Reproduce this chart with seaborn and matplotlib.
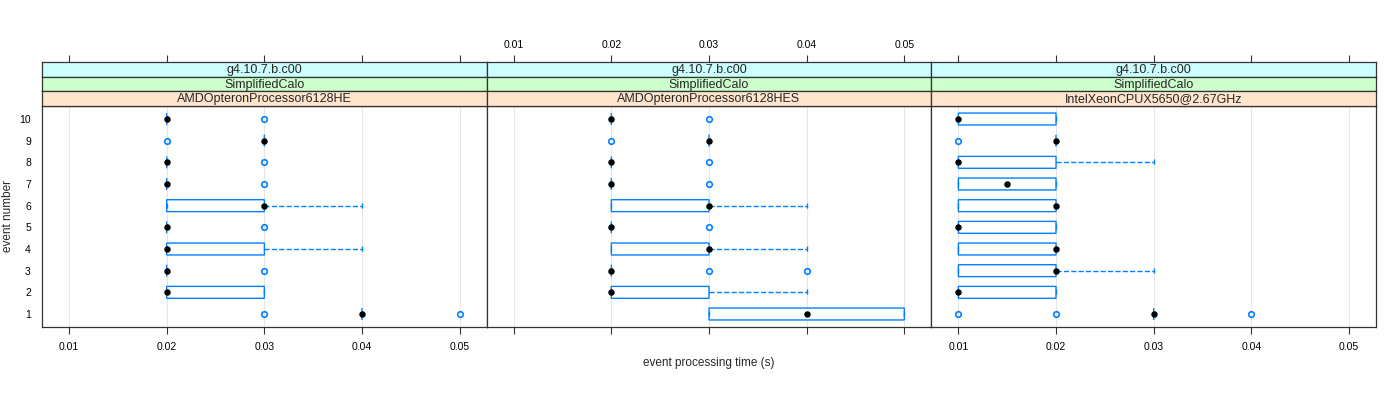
import numpy as np
import pandas as pd
import matplotlib
matplotlib.use('Agg')
import matplotlib.pyplot as plt
import seaborn as sns

# event processing time samples (s), per machine, events 1..10
events = ['1', '2', '3', '4', '5', '6', '7', '8', '9', '10']

he_times = [
    [0.03, 0.04, 0.04, 0.04, 0.04, 0.04, 0.05],
    [0.02, 0.02, 0.02, 0.02, 0.02, 0.03, 0.03, 0.03, 0.03],
    [0.02, 0.02, 0.02, 0.02, 0.03],
    [0.02, 0.02, 0.02, 0.02, 0.02, 0.03, 0.03, 0.03, 0.04],
    [0.02, 0.02, 0.02, 0.02, 0.03],
    [0.02, 0.02, 0.02, 0.03, 0.03, 0.03, 0.03, 0.03, 0.04],
    [0.02, 0.02, 0.02, 0.02, 0.03],
    [0.02, 0.02, 0.02, 0.02, 0.03],
    [0.02, 0.03, 0.03, 0.03, 0.03],
    [0.02, 0.02, 0.02, 0.02, 0.03],
]

hes_times = [
    [0.03, 0.03, 0.04, 0.05, 0.05],
    [0.02, 0.02, 0.02, 0.02, 0.02, 0.03, 0.03, 0.03, 0.04],
    [0.02, 0.02, 0.02, 0.02, 0.02, 0.02, 0.02, 0.03, 0.04],
    [0.02, 0.02, 0.02, 0.03, 0.03, 0.03, 0.03, 0.03, 0.04],
    [0.02, 0.02, 0.02, 0.02, 0.03],
    [0.02, 0.02, 0.02, 0.03, 0.03, 0.03, 0.03, 0.03, 0.04],
    [0.02, 0.02, 0.02, 0.02, 0.03],
    [0.02, 0.02, 0.02, 0.02, 0.03],
    [0.02, 0.03, 0.03, 0.03, 0.03],
    [0.02, 0.02, 0.02, 0.02, 0.03],
]

xeon_times = [
    [0.01, 0.02, 0.03, 0.03, 0.03, 0.03, 0.03, 0.03, 0.04],
    [0.01, 0.01, 0.01, 0.02, 0.02],
    [0.01, 0.01, 0.02, 0.02, 0.03],
    [0.01, 0.01, 0.02, 0.02, 0.02],
    [0.01, 0.01, 0.01, 0.02, 0.02],
    [0.01, 0.01, 0.02, 0.02, 0.02],
    [0.01, 0.01, 0.02, 0.02],
    [0.01, 0.01, 0.01, 0.02, 0.03],
    [0.01, 0.02, 0.02, 0.02, 0.02],
    [0.01, 0.01, 0.01, 0.02, 0.02],
]

version = 'g4.10.7.b.c00'
app = 'SimplifiedCalo'
cpus = ['AMDOpteronProcessor6128HE', 'AMDOpteronProcessor6128HES', 'IntelXeonCPUX5650@2.67GHz']
xticks = [0.01, 0.02, 0.03, 0.04, 0.05]

# long-form table
rows = []
for cpu, samples in zip(cpus, [he_times, hes_times, xeon_times]):
    for ev, vals in zip(events, samples):
        for v in vals:
            rows.append({'cpu': cpu, 'event': ev, 'time': v})
df = pd.DataFrame(rows)

sns.set_style('white')
plt.rcParams['font.family'] = ['Liberation Sans', 'DejaVu Sans']

W, H = 1400, 400
fig = plt.figure(figsize=(14, 4), dpi=100)

blue = '#0080ff'
frame = '#333333'
strip_cols = ['#ccffff', '#ccffcc', '#ffe5cc']
order = events[::-1]
xlim = (0.00723, 0.05277)

left, right = 42, 1376
pw = (right - left) / 3
top_plot, bot_plot = 106, 327
sh = (top_plot - 62) / 3

for i, cpu in enumerate(cpus):
    x0 = left + i * pw
    ax = fig.add_axes([x0 / W, 1 - bot_plot / H, pw / W, (bot_plot - top_plot) / H])
    sub = df[df['cpu'] == cpu]
    sns.boxplot(data=sub, x='time', y='event', order=order, orient='h', ax=ax,
                width=0.55, color='white', linecolor=blue, linewidth=1,
                whiskerprops={'linestyle': '--'}, capprops={'linestyle': '--'},
                boxprops={'snap': False},
                medianprops={'linewidth': 0},
                flierprops={'marker': 'o', 'markerfacecolor': 'none',
                            'markeredgecolor': blue, 'markersize': 4,
                            'markeredgewidth': 1.2})
    sns.pointplot(data=sub, x='time', y='event', order=order, orient='h', ax=ax,
                  estimator='median', errorbar=None, color='black',
                  linestyle='none', markers='o', markersize=2.6)
    ax.set_xlim(*xlim)
    ax.set_ylim(9.6, -0.6)
    ax.set_xticks(xticks)
    ax.grid(axis='x', color='#e6e6e6', lw=0.8)
    ax.set_axisbelow(True)
    ax.set_xlabel('')
    ax.set_ylabel('')
    for s in ax.spines.values():
        s.set_color(frame)
        s.set_linewidth(0.9)
    ax.tick_params(axis='x', direction='out', length=5, width=0.8, color=frame,
                   labelsize=7.5, pad=6, bottom=True, labelcolor='black')
    if i == 1:
        ax.set_xticklabels([])
    else:
        ax.set_xticklabels([f'{t:.2f}' for t in xticks])
    if i == 0:
        ax.tick_params(axis='y', length=0, labelsize=7.5, pad=8, labelcolor='black')
    else:
        ax.tick_params(axis='y', left=False, labelleft=False)

    # strips
    labels = [version, app, cpu]
    for k in range(3):
        y_top = 62 + k * sh
        sax = fig.add_axes([x0 / W, 1 - (y_top + sh) / H, pw / W, sh / H])
        sax.set_facecolor(strip_cols[k])
        sax.set_xlim(*xlim)
        sax.set_yticks([])
        sax.set_xticks([])
        for s in sax.spines.values():
            s.set_color(frame)
            s.set_linewidth(0.9)
        sax.text(0.5, 0.45, labels[k], transform=sax.transAxes, ha='center',
                 va='center', fontsize=9)
        if k == 0:
            sax.set_xticks(xticks)
            sax.tick_params(axis='x', bottom=False, labelbottom=False, top=True,
                            labeltop=(i == 1), direction='out', length=5,
                            width=0.8, color=frame, labelsize=7.5, pad=4,
                            labelcolor='black')
            if i == 1:
                sax.set_xticklabels([f'{t:.2f}' for t in xticks])

fig.text((left + 1.5 * pw) / W, 1 - 363 / H, 'event processing time (s)',
         ha='center', va='center', fontsize=8.5)
fig.text(8 / W, 1 - (top_plot + bot_plot) / 2 / H, 'event number',
         ha='center', va='center', rotation=90, fontsize=8.5)

fig.savefig('out.png', dpi=100)
